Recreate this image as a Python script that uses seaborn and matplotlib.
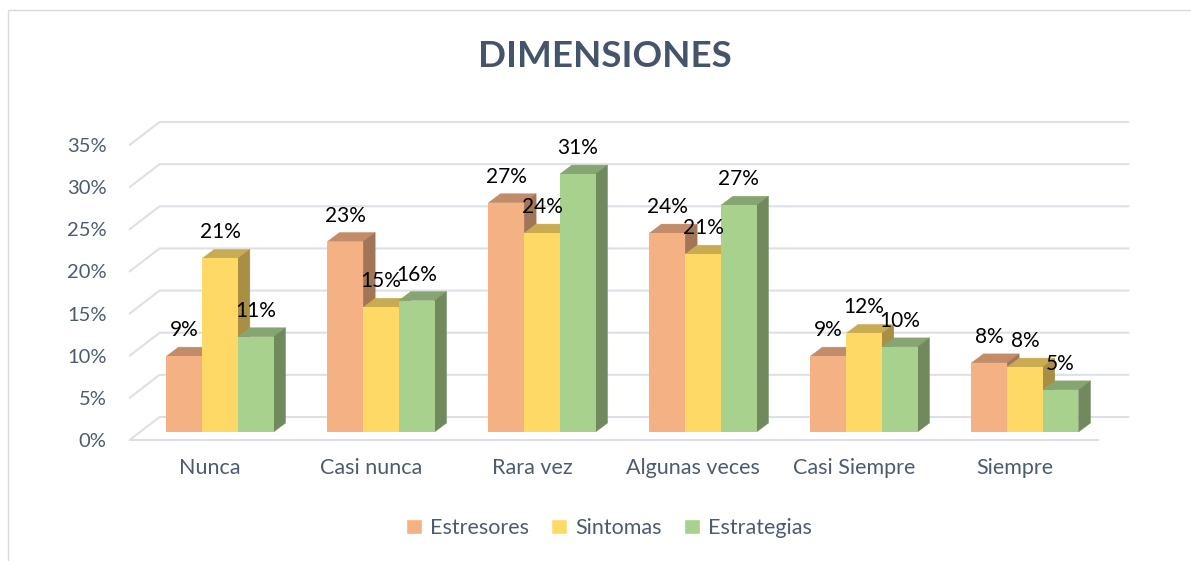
import numpy as np
import pandas as pd
import matplotlib
matplotlib.use('Agg')
import matplotlib.pyplot as plt
import matplotlib.transforms as mtransforms
from matplotlib.patches import Polygon, Rectangle
from matplotlib.lines import Line2D
import seaborn as sns

# ---------------------------------------- datos ----------------------------------------#
categorias = ['Nunca', 'Casi nunca', 'Rara vez', 'Algunas veces', 'Casi Siempre', 'Siempre']
series = ['Estresores', 'Sintomas', 'Estrategias']
estresores = [0.090, 0.226, 0.272, 0.236, 0.090, 0.082]
sintomas = [0.206, 0.148, 0.236, 0.211, 0.117, 0.077]
estrategias = [0.113, 0.156, 0.306, 0.269, 0.101, 0.050]
y_ticks = [0, 0.05, 0.10, 0.15, 0.20, 0.25, 0.30, 0.35]
y_labels = ['0%', '5%', '10%', '15%', '20%', '25%', '30%', '35%']

colores = ['#F4B183', '#FFD966', '#A9D18E']
color_texto = '#44546A'
color_ejes = '#4E5B6F'
color_grid = '#DDE0E6'

df = pd.DataFrame({
    'categoria': categorias * 3,
    'serie': np.repeat(series, len(categorias)),
    'valor': estresores + sintomas + estrategias,
})

sns.set_theme(style='white')
plt.rcParams['font.family'] = ['Lato', 'DejaVu Sans']

W, H = 1191, 561
fig = plt.figure(figsize=(W / 100, H / 100), dpi=100)
ax = fig.add_axes([140 / W, (H - 432) / H, 969 / W, 295 / H])

sns.barplot(data=df, x='categoria', y='valor', hue='serie', order=categorias,
            hue_order=series, palette=colores, saturation=1, width=0.665,
            errorbar=None, ax=ax)
ax.set_xlim(-0.497, 5.522)
ax.set_ylim(0, 0.35)
ax.set_facecolor('none')
for s in ax.spines.values():
    s.set_visible(False)
ax.set_xlabel('')
ax.set_ylabel('')


def to_data(x, y, dx, dy):
    # desplaza un punto (x, y) dx, dy pixeles en pantalla
    X, Y = ax.transData.transform((x, y))
    return ax.transData.inverted().transform((X + dx, Y + dy))


# rejilla 3D (plano trasero + diagonal izquierda)
x0, x1 = ax.get_xlim()
for v in y_ticks:
    pts = [to_data(x0, v, -10.4, -8), to_data(x0, v, 19.6, 15), to_data(x1, v, 19.6, 15)]
    if v == 0:
        pts = [to_data(x1, v, -10.4, -8)] + pts
    pts = np.array(pts)
    ax.add_line(Line2D(pts[:, 0], pts[:, 1], color=color_grid, lw=1.5, zorder=0.5, clip_on=False))

# caras laterales y superiores de las barras
DX, DY = 12, 9
for h, cont in enumerate(ax.containers):
    front = colores[h]
    rgb = np.array(matplotlib.colors.to_rgb(front))
    top_c = rgb * 0.79
    side_c = rgb * 0.66
    for patch in cont:
        bx = patch.get_x()
        bw = patch.get_width()
        by = patch.get_height()
        patch.set_zorder(3 + 2 * h)
        patch.set_linewidth(0)
        top = [(bx, by), (bx + bw, by), to_data(bx + bw, by, DX, DY), to_data(bx, by, DX, DY)]
        side = [(bx + bw, 0), (bx + bw, by), to_data(bx + bw, by, DX, DY), to_data(bx + bw, 0, DX, DY)]
        ax.add_patch(Polygon(top, closed=True, facecolor=top_c, edgecolor=top_c, lw=0.3,
                             zorder=2 + 2 * h, clip_on=False))
        ax.add_patch(Polygon(side, closed=True, facecolor=side_c, edgecolor=side_c, lw=0.3,
                             zorder=2 + 2 * h, clip_on=False))
        ax.annotate(f'{by:.0%}', (bx + bw / 2, by), xytext=(0, 26), textcoords='offset pixels',
                    ha='center', va='center', fontsize=15, color='black', zorder=20,
                    annotation_clip=False)

# ejes
ax.set_yticks(y_ticks)
ax.set_yticklabels(y_labels)
ax.tick_params(axis='y', length=0, pad=24, labelsize=14.5, labelcolor=color_ejes)
ax.tick_params(axis='x', length=0, pad=19, labelsize=15.5, labelcolor=color_ejes)
for lab in ax.get_yticklabels():
    lab.set_transform(lab.get_transform() + mtransforms.ScaledTranslation(0, -0.08, fig.dpi_scale_trans))
for lab in ax.get_xticklabels():
    lab.set_transform(lab.get_transform() + mtransforms.ScaledTranslation(-0.10, 0, fig.dpi_scale_trans))

# titulo
fig.text(605 / W, (H - 67) / H, 'DIMENSIONES', ha='center', va='baseline',
         fontsize=26.5, fontweight='bold', color=color_texto)

# leyenda
sns.move_legend(ax, 'center', bbox_to_anchor=(609 / W, 33 / H), bbox_transform=fig.transFigure,
                ncol=3, frameon=False, title=None, fontsize=15.5, handlelength=0.75,
                handleheight=0.75, handletextpad=0.4, columnspacing=1.0, labelcolor=color_ejes)

# borde del grafico
fig.add_artist(Rectangle((7.5 / W, -0.1), 1.2, (H - 9.5) / H + 0.1, transform=fig.transFigure,
                         fill=False, edgecolor='#D9D9D9', lw=1))

fig.savefig('out.png', dpi=100)
